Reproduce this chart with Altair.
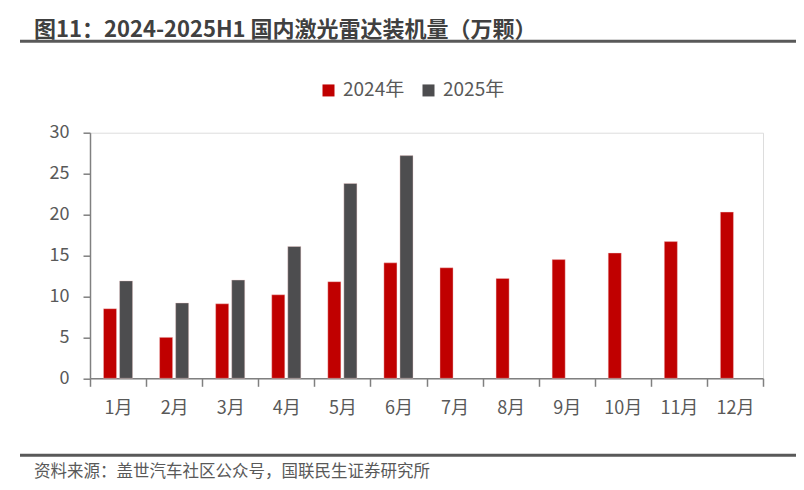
import altair as alt
import pandas as pd

months = ["1月", "2月", "3月", "4月", "5月", "6月", "7月", "8月", "9月", "10月", "11月", "12月"]
series = ["2024年", "2025年"]
v2024 = [8.5, 5.0, 9.1, 10.2, 11.8, 14.1, 13.5, 12.2, 14.5, 15.3, 16.7, 20.3]
v2025 = [11.9, 9.2, 12.0, 16.1, 23.8, 27.2]
colors = ["#C00000", "#4D4D4F"]
title_text = "图11：2024-2025H1 国内激光雷达装机量（万颗）"
source_text = "资料来源：盖世汽车社区公众号，国联民生证券研究所"

rows = []
for m, v in zip(months, v2024):
    rows.append({"month": m, "series": series[0], "value": v})
for m, v in zip(months, v2025):
    rows.append({"month": m, "series": series[1], "value": v})
df = pd.DataFrame(rows)

FONT = "Noto Sans CJK SC"

bars = alt.Chart(df).mark_bar(stroke="#f4d0d0", strokeWidth=0.4).encode(
    x=alt.X("month:N", sort=months,
            scale=alt.Scale(domain=months, paddingInner=0, paddingOuter=0),
            axis=alt.Axis(title=None, labelAngle=0, tickBand="extent", tickSize=8,
                          labelPadding=13, labelFontSize=18, labelColor="#595959",
                          labelFont=FONT, domainColor="#808080", tickColor="#808080",
                          domainWidth=1.5, tickWidth=1.5)),
    xOffset=alt.XOffset("series:N", sort=series,
                        scale=alt.Scale(domain=series, paddingInner=0.1875, paddingOuter=0.84)),
    y=alt.Y("value:Q", scale=alt.Scale(domain=[0, 30], nice=False),
            axis=alt.Axis(title=None, values=[0, 5, 10, 15, 20, 25, 30], tickSize=7,
                          labelPadding=14, labelFontSize=18, labelColor="#595959",
                          labelFont=FONT, grid=False, domainColor="#808080",
                          tickColor="#808080", domainWidth=1.5, tickWidth=1.5)),
    color=alt.Color("series:N", sort=series,
                    scale=alt.Scale(domain=series, range=colors),
                    legend=alt.Legend(title=None, orient="none", legendX=229, legendY=-52,
                                      direction="horizontal", symbolType="square",
                                      symbolSize=144, symbolStrokeWidth=0,
                                      labelFontSize=19, labelFont=FONT, labelColor="#595959",
                                      labelOffset=5, columnPadding=14)),
)

title = alt.Chart(pd.DataFrame({"t": [title_text]})).mark_text(
    align="left", baseline="alphabetic", fontSize=22, fontWeight="bold",
    font=FONT, color="#404040"
).encode(text="t:N", x=alt.value(-56), y=alt.value(-96))

source = alt.Chart(pd.DataFrame({"t": [source_text]})).mark_text(
    align="left", baseline="alphabetic", fontSize=16.5,
    font=FONT, color="#595959"
).encode(text="t:N", x=alt.value(-56), y=alt.value(344))

top_line = alt.Chart(pd.DataFrame({"a": [0]})).mark_rule(
    color="#595959", strokeWidth=3
).encode(x=alt.value(-70), x2=alt.value(708), y=alt.value(-91.5))

bottom_line = alt.Chart(pd.DataFrame({"a": [0]})).mark_rule(
    color="#595959", strokeWidth=3
).encode(x=alt.value(-70), x2=alt.value(708), y=alt.value(322.5))

chart = alt.layer(bars, title, source, top_line, bottom_line).properties(
    width=673, height=245.6,
    autosize=alt.AutoSizeParams(type="none"),
    padding={"left": 82, "top": 124.7, "right": 33, "bottom": 103.7},
).configure_view(stroke=None).configure(background="white")

chart.save("out.html", embed_options={"renderer": "svg", "actions": False})
